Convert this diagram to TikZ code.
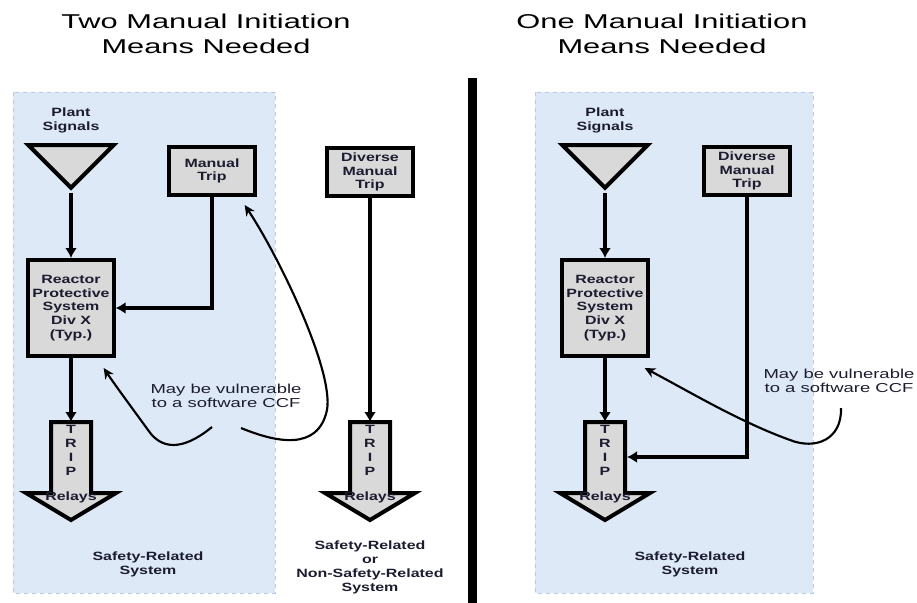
\documentclass[tikz,border=0pt]{standalone}
\usepackage{fontspec}
\setmainfont{Liberation Sans}
\newfontfamily\titlefont[FakeStretch=1.54]{Liberation Sans}
\newfontfamily\boxfont[FakeStretch=1.33]{Liberation Sans}
\newfontfamily\notefont[FakeStretch=1.42]{Liberation Sans}
\usepackage{tikz}
\usetikzlibrary{shapes,arrows.meta,calc}
\usepackage{xcolor}
\definecolor{panelblue}{RGB}{221,233,247}
\definecolor{panelline}{RGB}{180,200,232}
\definecolor{boxgray}{RGB}{217,217,217}
\definecolor{inkblue}{RGB}{28,28,48}
\tikzstyle{block} = [rectangle, draw, line width=3pt, fill=boxgray, align=center, inner sep=0pt, minimum width=64pt, minimum height=36pt, text=inkblue, font=\boxfont\bfseries\fontsize{9}{10.3}\selectfont]
\tikzstyle{rps} = [block, minimum height=72pt]
\tikzstyle{signal} = [isosceles triangle, draw, line width=3pt, fill=boxgray, shape border rotate=270, isosceles triangle stretches, minimum width=64pt, minimum height=32pt, inner sep=0pt]
\tikzstyle{tag} = [align=center, inner sep=0pt, text=inkblue, font=\boxfont\bfseries\fontsize{9}{10.5}\selectfont]
\tikzstyle{title} = [align=center, inner sep=0pt, font=\titlefont\fontsize{15}{18.75}\selectfont]
\tikzstyle{remark} = [align=center, inner sep=0pt, text=inkblue, font=\notefont\fontsize{9.75}{10.75}\selectfont]
\tikzstyle{line} = [draw, line width=2.6pt, -{Latex[length=7.5pt,width=9pt]}]
\tikzstyle{callout} = [draw, line width=1.6pt, -{Stealth[length=8pt,width=7.5pt]}]
\tikzstyle{panel} = [draw=panelline, dashed, line width=0.75pt, fill=panelblue]
\tikzstyle{tripbody} = [draw, line width=3pt, fill=boxgray, line join=miter]
\newcommand{\tripblock}[2]{%
  \coordinate (#1) at (#2,422);
  \draw[tripbody] (#1) ++(-20,0) -- ++(0,71) -- ++(-25,0) -- ++(45,27) -- ++(45,-27) -- ++(-25,0) -- ++(0,-71) -- cycle;
  \node[tag] (#1-letters) at (#2,450) {T\\R\\I\\P};
  \node[tag] (#1-relays) at (#2,497) {Relays};
}
\begin{document}
\begin{tikzpicture}[x=0.75pt, y=-0.75pt]
		\useasboundingbox (0,0) rectangle (917,603);
		% Backgrounds
		\draw[panel] (13,92) rectangle (275,593);
		\draw[panel] (535,92) rectangle (813,593);
		\draw[line width=6.75pt] (472,78) -- (472,603);
		\node[title] (headA) at (206,34) {Two Manual Initiation\\Means Needed};
		\node[title] (headC) at (662,34) {One Manual Initiation\\Means Needed};
		
		% Place nodes
		\node[tag] (plantA) at (71,120) {Plant\\Signals};
		\node[signal, anchor=apex] (sigA) at (71,193) {};
		\node[rps] (rpsA) at (71,308) {Reactor\\Protective\\System\\Div X\\(Typ.)};
		\node[block] (mtA) at (212,171) {Manual\\Trip};
		\tripblock{tripA}{71}
		\node[tag] (srsA) at (148,564) {Safety-Related\\System};
		\node[remark] (noteA) at (226,396) {May be vulnerable\\to a software CCF};
		
		\node[block] (dmtB) at (370,172) {Diverse\\Manual\\Trip};
		\tripblock{tripB}{370}
		\node[tag] (srsB) at (370,567) {Safety-Related\\or\\Non-Safety-Related\\System};
		
		\node[tag] (plantC) at (605,120) {Plant\\Signals};
		\node[signal, anchor=apex] (sigC) at (605,193) {};
		\node[rps] (rpsC) at (605,308) {Reactor\\Protective\\System\\Div X\\(Typ.)};
		\node[block] (dmtC) at (747,171) {Diverse\\Manual\\Trip};
		\tripblock{tripC}{605}
		\coordinate (tripCin) at ($(tripC)+(22,35)$);
		\node[tag] (srsC) at (690,564) {Safety-Related\\System};
		\node[remark] (noteC) at (839,381) {May be vulnerable\\to a software CCF};
		
		% Draw edges
		\path[line] (sigA.apex) -- (rpsA);
		\path[line] (mtA) |- (rpsA);
		\path[line] (rpsA) -- (tripA);
		\path[line] (dmtB) -- (tripB);
		\path[line] (sigC.apex) -- (rpsC);
		\path[line] (rpsC) -- (tripC);
		\path[line] (dmtC) |- (tripCin);
		
		% CCF remarks
		\path[callout] ($(noteA)+(-14,31)$) .. controls (190,445) and (165,455) .. (148,430) .. controls (135,412) and (115,385) .. ($(rpsA.south east)+(-12,10)$);
		\path[callout] ($(noteA)+(15,32)$) .. controls (275,442) and (318,452) .. (327,410) .. controls (334,370) and (278,255) .. ($(mtA.south east)+(-12,8)$);
		\path[callout] ($(noteC)+(2,27)$) .. controls (842,440) and (815,450) .. (790,440) .. controls (740,422) and (690,392) .. ($(rpsC.south east)+(-5,10)$);
	\end{tikzpicture}
\end{document}
